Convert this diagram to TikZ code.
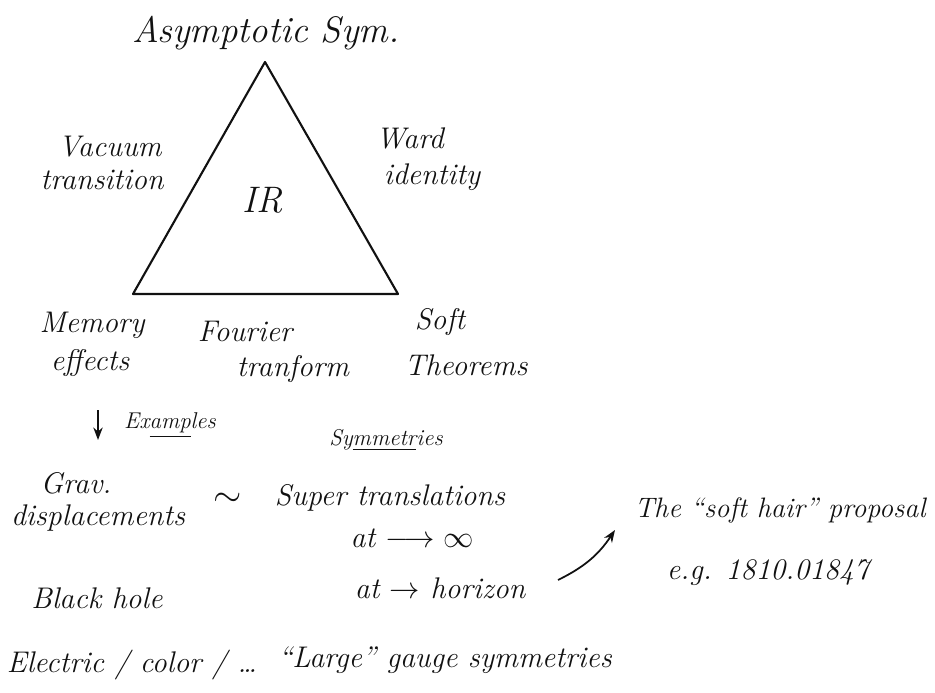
\documentclass[tikz,border=0pt]{standalone}
\usepackage{amsmath,amssymb}
\usepackage{xcolor}
\usepackage{tikz}
\usetikzlibrary{arrows.meta, positioning}
\definecolor{ink}{HTML}{111111}

\begin{document}
\begin{tikzpicture}[
  x=0.02cm, y=-0.02cm,
  node distance=0.1cm and 0.3cm,
  lbl/.style={inner sep=1pt, text=ink, font=\fontsize{17}{20}\selectfont\itshape},
  biglbl/.style={lbl, font=\fontsize{21}{24}\selectfont\itshape},
  smalllbl/.style={lbl, font=\fontsize{13}{16}\selectfont\itshape},
  edge/.style={draw=ink, line width=1.2pt, line join=round},
  arrow/.style={-{Stealth[length=2.5mm]}, line width=1pt, color=ink}
]
  \useasboundingbox (0,0) rectangle (935,692);

  % the IR triangle
  \coordinate (apex) at (265,62);
  \coordinate (left) at (133,294);
  \coordinate (right) at (398,294);
  \draw[edge] (apex) -- (left) -- (right) -- cycle;
  \node[biglbl] (ir) at (263,200) {IR};

  % corners and sides
  \node[biglbl] (asym) at (266,33) {Asymptotic Sym.};
  \node[lbl] (vac) at (110,147) {Vacuum};
  \node[lbl] (trans) at (102,180) {transition};
  \node[lbl] (ward) at (410,138) {Ward};
  \node[lbl] (ident) at (432,177) {identity};
  \node[lbl] (mem) at (92,325) {Memory};
  \node[lbl] (eff) at (90,363) {effects};
  \node[lbl] (four) at (245,331) {Fourier};
  \node[lbl] (tranf) at (293,369) {tranform};
  \node[lbl] (soft) at (440,322) {Soft};
  \node[lbl] (thm) at (466,365) {Theorems};

  % examples
  \coordinate (exA) at (98,410);
  \coordinate (exB) at (98,440);
  \draw[arrow] (exA) -- (exB);
  \node[smalllbl] (examp) at (170,425) {Ex\underline{amp}les};
  \node[smalllbl] (symm) at (386,440) {Sy\underline{mmetr}ies};

  \node[lbl] (grav) at (76,483) {Grav.};
  \node[lbl] (disp) at (98,518) {displacements};
  \node[biglbl] (tilde) at (228,500) {$\sim$};
  \node[lbl] (super) at (390,498) {Super translations};
  \node[lbl] (inf) at (412,538) {at $\longrightarrow\infty$};
  \node[lbl] (bh) at (97,598) {Black hole};
  \node[lbl] (hor) at (440,588) {at $\to$ horizon};

  % soft hair
  \node[lbl, font=\fontsize{16}{19}\selectfont\itshape] (hair) at (780,510) {The ``soft hair'' proposal};
  \node[lbl] (eg) at (768,573) {e.g. 1810.01847};
  \coordinate (hairA) at (558,580);
  \coordinate (hairB) at (615,530);
  \draw[arrow] (hairA) to[bend right=15] (hairB);

  % gauge
  \node[lbl] (elec) at (132,665) {Electric / color / \dots};
  \node[lbl] (large) at (445,660) {``Large'' gauge symmetries};
\end{tikzpicture}
\end{document}
